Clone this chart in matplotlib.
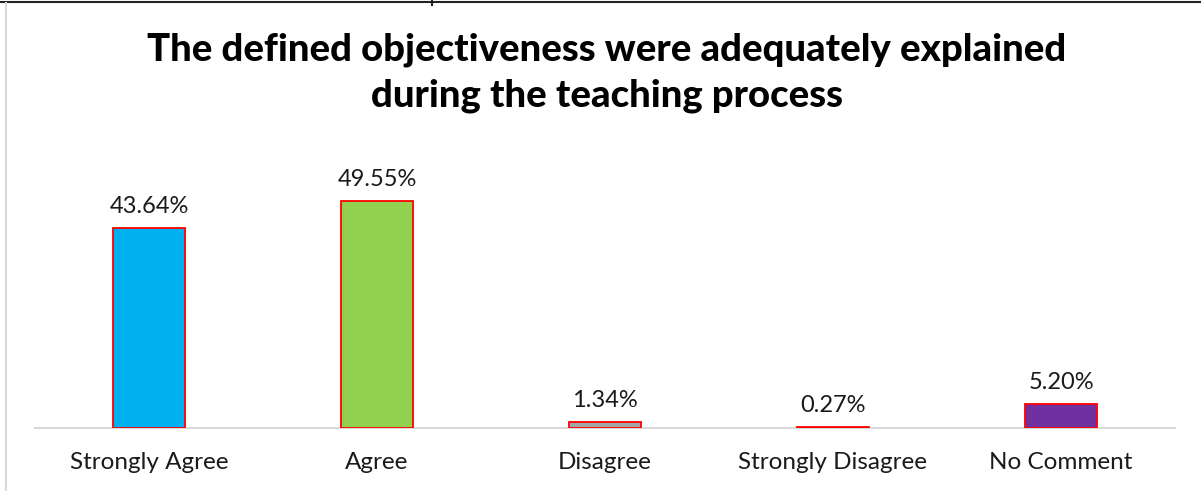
import matplotlib.pyplot as plt
from matplotlib.lines import Line2D

categories = ["Strongly Agree", "Agree", "Disagree", "Strongly Disagree", "No Comment"]
values = [43.64, 49.55, 1.34, 0.27, 5.20]
labels = ["43.64%", "49.55%", "1.34%", "0.27%", "5.20%"]
colors = ["#00B0F0", "#92D050", "#A6A6A6", "#FFC000", "#7030A0"]

plt.rcParams['font.family'] = ['Lato', 'DejaVu Sans']

fig = plt.figure(figsize=(12.01, 4.91), dpi=100)
ax = fig.add_axes([35/1201, 63/491, 1140/1201, 275/491])

x = range(len(categories))
ax.bar(x, values, width=0.315, color=colors, edgecolor="#FF0000", linewidth=1.3, zorder=3)
for i, v in enumerate(values):
    ax.text(i, v + 2.4, labels[i], ha='center', va='bottom', fontsize=17, color='#1a1a1a')

ax.set_xlim(-0.5, 4.5)
ax.set_ylim(0, 60)
ax.set_xticks(list(x))
ax.set_xticklabels(categories, fontsize=17.5, color='#1a1a1a')
ax.tick_params(axis='x', length=0, pad=17)
ax.set_yticks([])
for s in ['top', 'right', 'left']:
    ax.spines[s].set_visible(False)
ax.spines['bottom'].set_color('#D9D9D9')
ax.spines['bottom'].set_linewidth(1.5)

fig.text(607/1201, 1 - 73/491, "The defined objectiveness were adequately explained\nduring the teaching process",
         ha='center', va='center', fontsize=27.5, fontweight='black', linespacing=1.42)

# frame lines
fig.add_artist(Line2D([0, 1], [1 - 1.5/491, 1 - 1.5/491], color='#222222', linewidth=1.5))
fig.add_artist(Line2D([432/1201, 432/1201], [1 - 5/491, 1], color='#222222', linewidth=1.5))
fig.add_artist(Line2D([6/1201, 6/1201], [0, 1 - 3/491], color='#D9D9D9', linewidth=1.5))

fig.savefig("out.png", dpi=100)
